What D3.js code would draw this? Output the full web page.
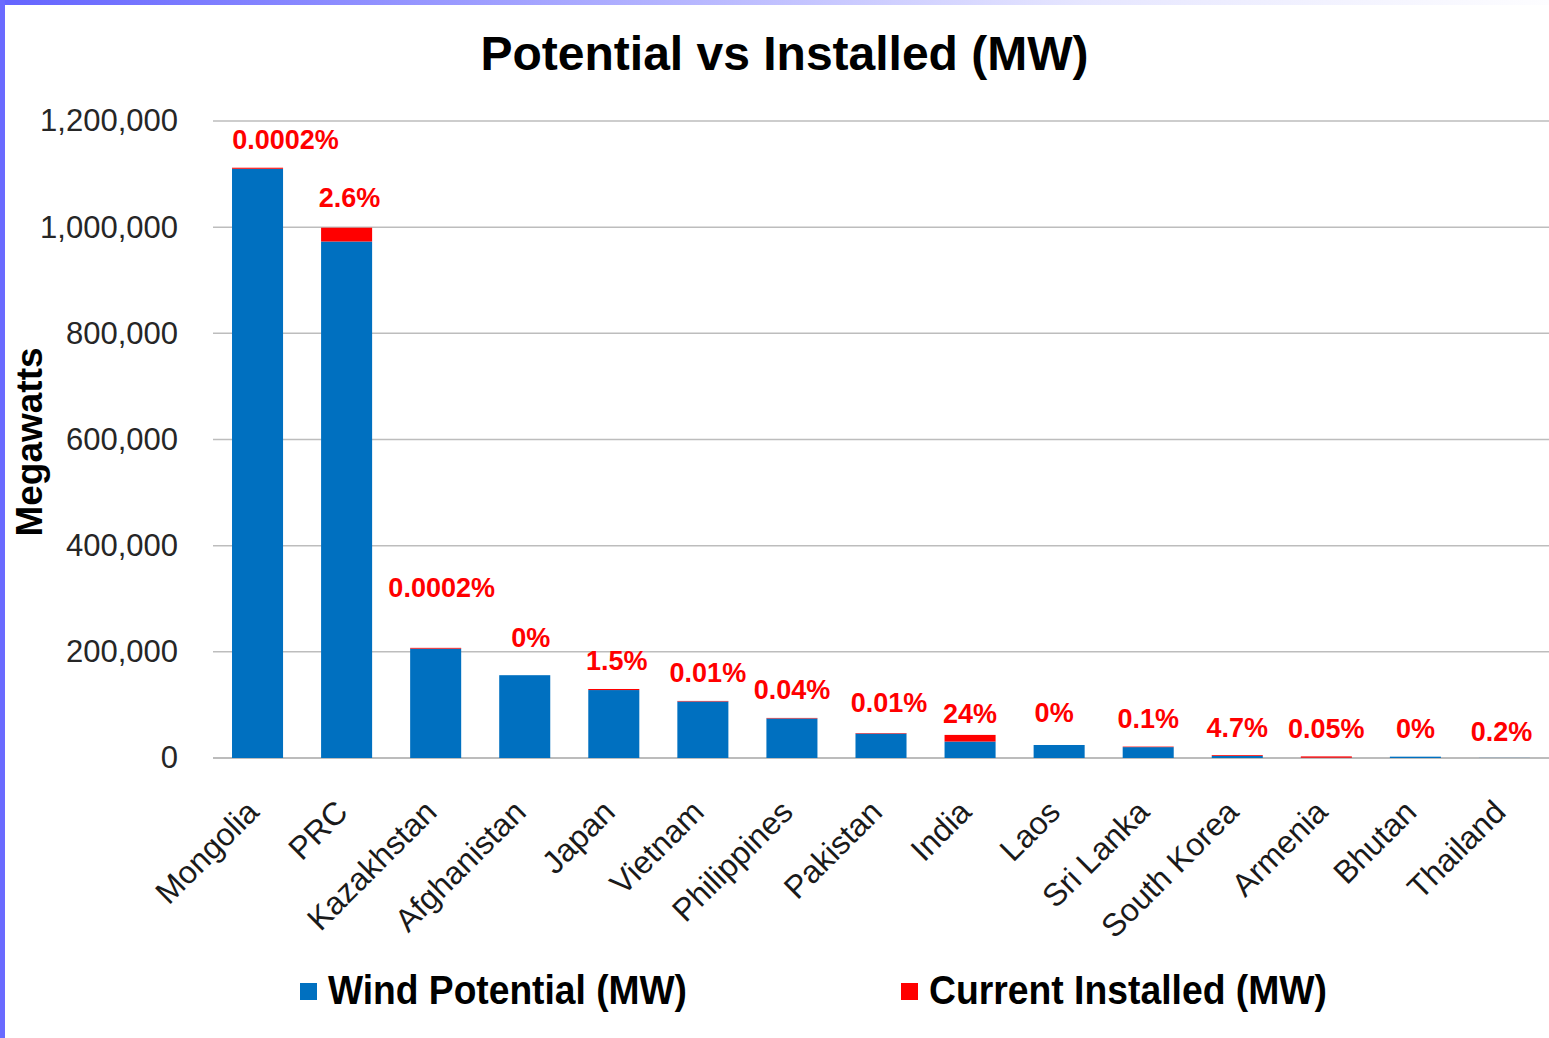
<!DOCTYPE html>
<html>
<head>
<meta charset="utf-8">
<script src="https://cdn.jsdelivr.net/npm/d3@7"></script>
<style>
  body { margin: 0; background: #fff; }
  text { font-family: "Liberation Sans", Arial, sans-serif; }
</style>
</head>
<body>
<div id="chart"></div>
<script>
// data (MW)
const countries = ["Mongolia", "PRC", "Kazakhstan", "Afghanistan", "Japan", "Vietnam", "Philippines",
  "Pakistan", "India", "Laos", "Sri Lanka", "South Korea", "Armenia", "Bhutan", "Thailand"];
const windPotential = [1110000, 973000, 206000, 156000, 128000, 106500, 74500, 46000, 31000, 24500, 20500, 4000, 500, 2500, 200];
const currentInstalled = [2000, 26000, 1500, 0, 2000, 1000, 1000, 1000, 12500, 0, 1000, 1500, 2500, 0, 0];
const shareLabels = ["0.0002%", "2.6%", "0.0002%", "0%", "1.5%", "0.01%", "0.04%", "0.01%", "24%", "0%", "0.1%", "4.7%", "0.05%", "0%", "0.2%"];
const yTicks = [0, 200000, 400000, 600000, 800000, 1000000, 1200000];
const seriesNames = ["Wind Potential (MW)", "Current Installed (MW)"];

const colors = ["#0070c0", "#ff0000"];
const W = 1549, H = 1038;
const plotLeft = 213, plotRight = 1549, plotTop = 121, plotBottom = 758;

// small manual label shifts, like the dragged labels in the original
const labelNudge = { "Mongolia": [28, 0], "Kazakhstan": [6, -32], "Afghanistan": [6, -10], "India": [0, 7], "Vietnam": [5, 0], "Pakistan": [8, -3], "Laos": [-5, -4], "PRC": [3, -2], "Japan": [3, 0], "Thailand": [-3, 2] };

const rows = countries.map((c, i) => ({ country: c, potential: windPotential[i], installed: currentInstalled[i], label: shareLabels[i] }));

const svg = d3.select("#chart").append("svg")
  .attr("width", W)
  .attr("height", H);

// frame: gradient top stripe and solid left stripe
const defs = svg.append("defs");
const grad = defs.append("linearGradient").attr("id", "topGrad").attr("x1", "0").attr("x2", "1");
grad.append("stop").attr("offset", "0").attr("stop-color", "#6464ff");
grad.append("stop").attr("offset", "0.7").attr("stop-color", "#e6e6ff");
grad.append("stop").attr("offset", "1").attr("stop-color", "#fdfdff");
svg.append("rect").attr("x", 0).attr("y", 0).attr("width", W).attr("height", 5).attr("fill", "url(#topGrad)");
svg.append("rect").attr("x", 0).attr("y", 0).attr("width", 5).attr("height", H).attr("fill", "#6a6aff");

const x = d3.scaleBand()
  .domain(countries)
  .range([plotLeft, plotRight])
  .paddingInner(0.427)
  .paddingOuter(0.2135);

const y = d3.scaleLinear()
  .domain([0, 1200000])
  .range([plotBottom, plotTop]);

// gridlines
svg.append("g")
  .selectAll("line")
  .data(yTicks)
  .join("line")
  .attr("x1", plotLeft)
  .attr("x2", plotRight)
  .attr("y1", d => y(d))
  .attr("y2", d => y(d))
  .attr("stroke", d => d === 0 ? "#a6a6a6" : "#bdbdbd")
  .attr("stroke-width", 1.5);

// stacked bars
const stack = d3.stack().keys(["potential", "installed"]);
const layers = stack(rows);

svg.append("g")
  .selectAll("g")
  .data(layers)
  .join("g")
  .attr("fill", (d, i) => colors[i])
  .selectAll("rect")
  .data(d => d)
  .join("rect")
  .attr("x", d => x(d.data.country))
  .attr("y", d => y(d[1]))
  .attr("width", x.bandwidth())
  .attr("height", d => y(d[0]) - y(d[1]));

// percent labels
svg.append("g")
  .selectAll("text")
  .data(rows)
  .join("text")
  .attr("x", d => x(d.country) + x.bandwidth() / 2 + (labelNudge[d.country] ? labelNudge[d.country][0] : 0))
  .attr("y", d => y(d.potential + d.installed) - 18.5 + (labelNudge[d.country] ? labelNudge[d.country][1] : 0))
  .attr("text-anchor", "middle")
  .style("font-size", "27px")
  .style("font-weight", "bold")
  .style("fill", "#ff0000")
  .text(d => d.label);

// x axis
const xAxis = svg.append("g")
  .attr("transform", `translate(0,${plotBottom})`)
  .call(d3.axisBottom(x).tickSize(0));
xAxis.select(".domain").remove();
xAxis.selectAll("text")
  .attr("x", 0)
  .attr("y", 0)
  .attr("dy", 0)
  .attr("transform", "translate(3,56) rotate(-45)")
  .attr("text-anchor", "end")
  .style("font-size", "32px")
  .style("font-family", "'Liberation Sans', Arial, sans-serif")
  .style("fill", "#1a1a1a");

// y axis
const yAxis = svg.append("g")
  .attr("transform", `translate(${plotLeft},0)`)
  .call(d3.axisLeft(y).tickValues(yTicks).tickSize(0).tickPadding(35).tickFormat(d3.format(",")));
yAxis.select(".domain").remove();
yAxis.selectAll("text")
  .style("font-size", "31px")
  .style("font-family", "'Liberation Sans', Arial, sans-serif")
  .style("fill", "#262626");

// title
svg.append("text")
  .attr("x", 784.5)
  .attr("y", 70)
  .attr("text-anchor", "middle")
  .style("font-size", "48px")
  .style("font-weight", "bold")
  .style("fill", "#000")
  .text("Potential vs Installed (MW)");

// y axis title
svg.append("text")
  .attr("transform", "translate(42,442) rotate(-90)")
  .attr("text-anchor", "middle")
  .style("font-size", "37px")
  .style("font-weight", "bold")
  .style("fill", "#000")
  .text("Megawatts");

// legend
const legendX = [300, 901];
const legendW = [359, 398];
const legend = svg.append("g")
  .selectAll("g")
  .data(seriesNames)
  .join("g")
  .attr("transform", (d, i) => `translate(${legendX[i]},0)`);
legend.append("rect")
  .attr("x", 0)
  .attr("y", 983)
  .attr("width", 17)
  .attr("height", 17)
  .attr("fill", (d, i) => colors[i]);
legend.append("text")
  .attr("x", 28)
  .attr("y", 1004)
  .attr("textLength", (d, i) => legendW[i])
  .attr("lengthAdjust", "spacingAndGlyphs")
  .style("font-size", "41px")
  .style("font-weight", "bold")
  .style("fill", "#000")
  .text(d => d);
</script>
</body>
</html>
